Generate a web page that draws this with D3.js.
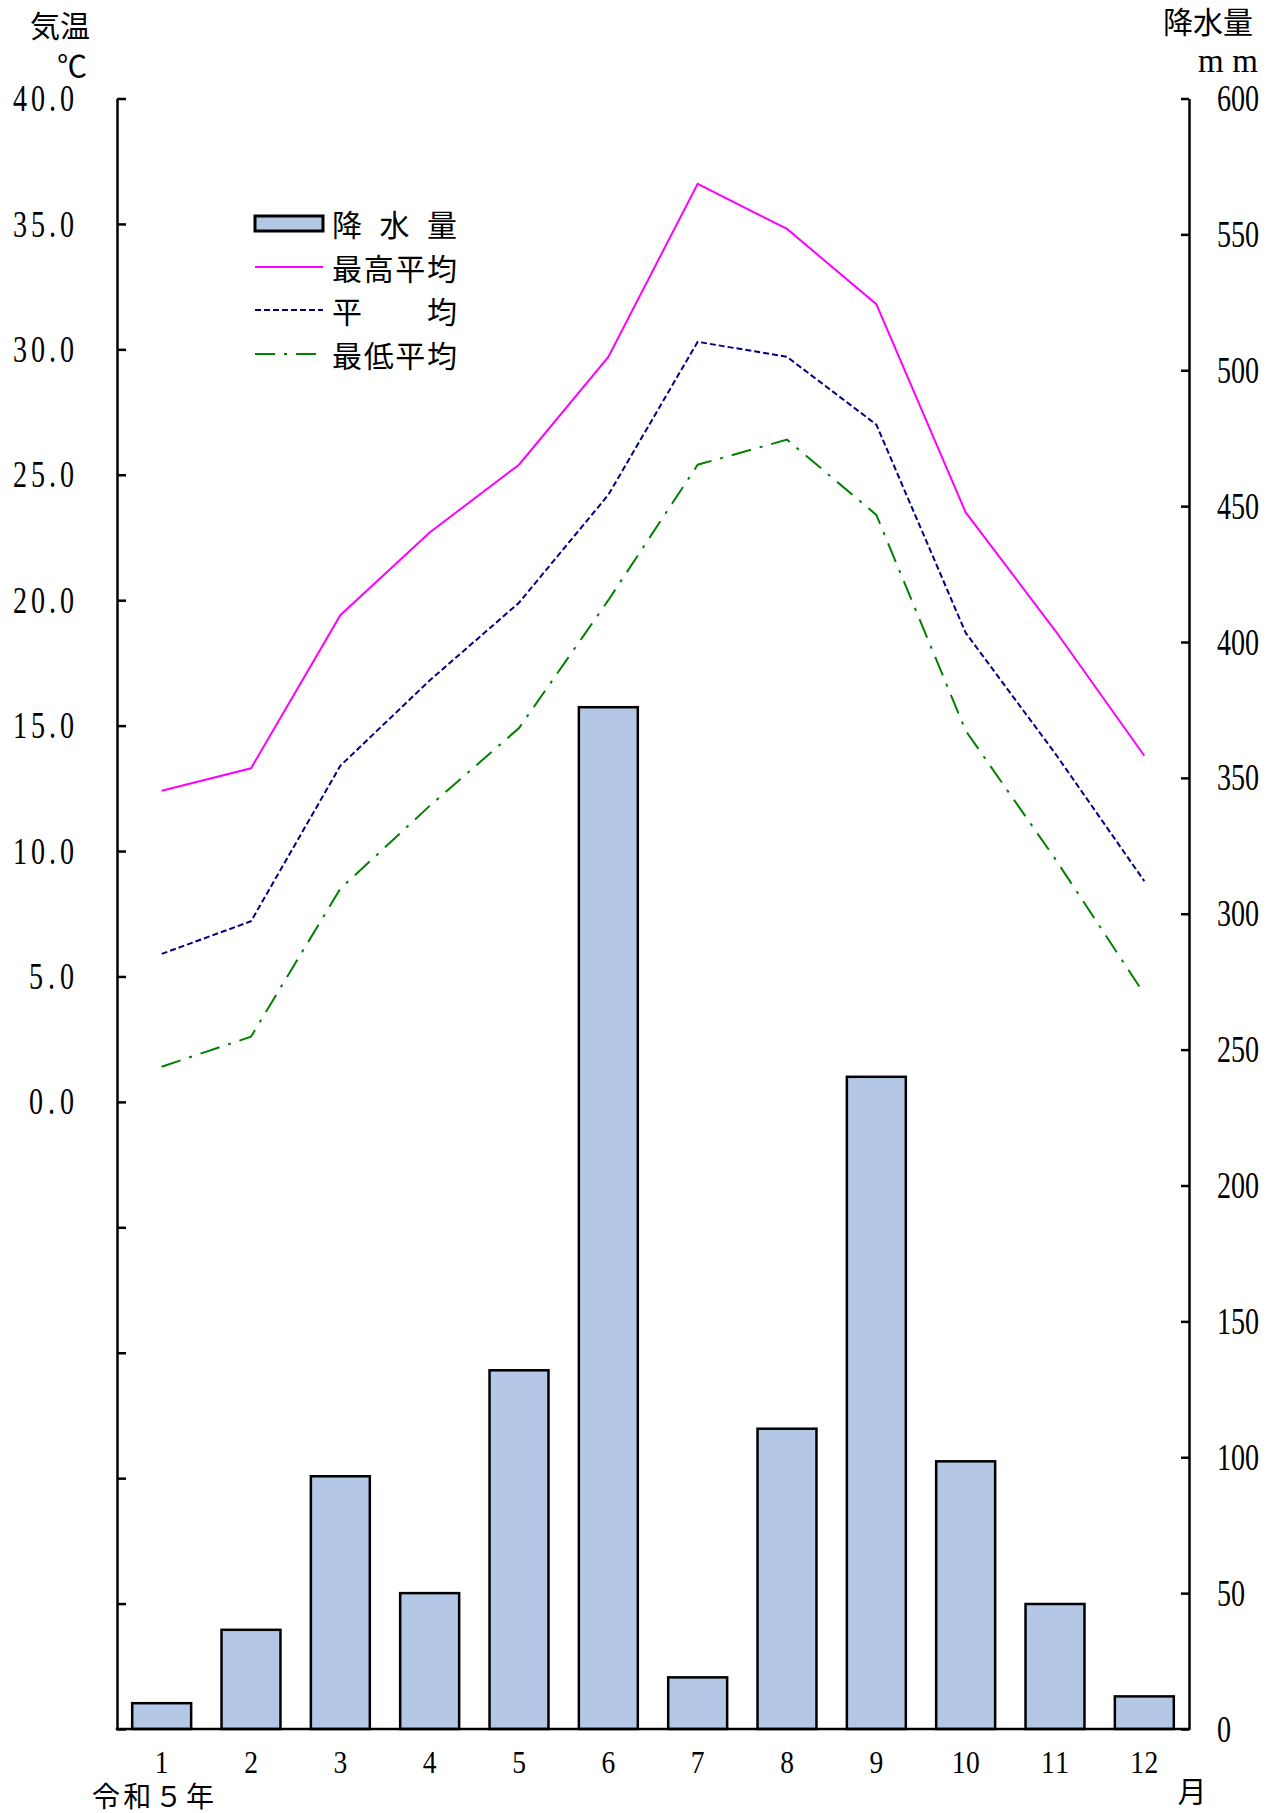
<!DOCTYPE html>
<html><head><meta charset="utf-8">
<script src="https://cdn.jsdelivr.net/npm/d3@7"></script>
<style>body{margin:0;background:#fff}</style>
</head><body><svg id="c" width="1278" height="1813"></svg>
<script>
const months = ["1","2","3","4","5","6","7","8","9","10","11","12"];
const rainfall = [9.5, 36.5, 93, 50, 132, 376, 19, 110.5, 240, 98.5, 46, 12];
const tempMax = [12.4, 13.3, 19.4, 22.7, 25.4, 29.7, 36.6, 34.8, 31.8, 23.5, 18.8, 13.8];
const tempAvg = [5.9, 7.2, 13.4, 16.8, 19.9, 24.2, 30.3, 29.7, 27.0, 18.7, 13.9, 8.8];
const tempMin = [1.4, 2.6, 8.5, 11.8, 14.9, 20.0, 25.4, 26.4, 23.4, 14.8, 9.7, 4.3];
const leftTickValues = [-25,-20,-15,-10,-5,0,5,10,15,20,25,30,35,40];
const leftLabelValues = [0,5,10,15,20,25,30,35,40];
const rightTickValues = [0,50,100,150,200,250,300,350,400,450,500,550,600];
const legendLabels = ["降水量","最高平均","平均","最低平均"];

const svg = d3.select("#c");
const L = 117, R = 1189, T = 98.5, B = 1729;
const x = d3.scaleBand().domain(months).range([L, R]).paddingInner(0.34).paddingOuter(0.17);
const yL = d3.scaleLinear().domain([-25, 40]).range([B, T]);
const yR = d3.scaleLinear().domain([0, 600]).range([B, T]);

const numFont = "'Liberation Serif', serif";
const cjkFont = "'Noto Sans CJK JP', sans-serif";
function numText(g, px, py, str, anchor, F, s, len) {
  const t = g.append("text")
    .attr("transform", `translate(${px},${py}) scale(${s},1)`)
    .attr("text-anchor", anchor)
    .attr("font-family", numFont)
    .attr("font-size", F)
    .attr("dy", "0.34em")
    .attr("fill", "#000")
    .text(str);
  if (len) t.attr("textLength", len / s).attr("lengthAdjust", "spacing");
  return t;
}

// bars
svg.append("g").selectAll("rect").data(months).join("rect")
  .attr("x", d => x(d))
  .attr("width", x.bandwidth())
  .attr("y", (d, i) => yR(rainfall[i]))
  .attr("height", (d, i) => B - yR(rainfall[i]))
  .attr("fill", "#B4C7E7")
  .attr("stroke", "#000")
  .attr("stroke-width", 2.5);

// lines
const cx = d => x(d) + x.bandwidth() / 2;
function drawLine(vals, color, dash) {
  const line = d3.line().x((d, i) => cx(months[i])).y(d => yL(d));
  svg.append("path").datum(vals).attr("d", line)
    .attr("fill", "none").attr("stroke", color).attr("stroke-width", 2)
    .attr("stroke-dasharray", dash || null);
}
drawLine(tempMax, "#FF00FF");
drawLine(tempAvg, "#000080", "6,3");
drawLine(tempMin, "#008000", "20,9,3,9");

// axes
const axL = svg.append("g").attr("transform", `translate(${L},0)`)
  .call(d3.axisLeft(yL).tickValues(leftTickValues).tickSizeInner(-9).tickSizeOuter(0).tickFormat(""));
const axR = svg.append("g").attr("transform", `translate(${R},0)`)
  .call(d3.axisRight(yR).tickValues(rightTickValues).tickSizeInner(-8).tickSizeOuter(0).tickFormat(""));
const axB = svg.append("g").attr("transform", `translate(0,${B})`)
  .call(d3.axisBottom(x).tickSize(0).tickSizeOuter(0).tickFormat(""));
[axL, axR, axB].forEach(a => {
  a.selectAll("path,line").attr("stroke", "#000").attr("stroke-width", 2.5);
});
axB.select("path").attr("d", `M${L - 1.25},0H${R + 1.25}`);

// labels
const lab = svg.append("g");
leftLabelValues.forEach(v => {
  const s = v.toFixed(1);
  numText(lab, 74, yL(v), s, "end", 37, 0.76, s.length === 4 ? 61 : 45);
});
rightTickValues.forEach(v => {
  const s = String(v);
  numText(lab, 1217, yR(v), s, "start", 37, 0.76, s.length > 1 ? s.length * 14 : null);
});
months.forEach(m => {
  numText(lab, cx(m), 1762, m, "middle", 32, 0.86, m.length > 1 ? 28 : null);
});

// titles
svg.append("text").attr("x", 30).attr("y", 24).attr("dominant-baseline", "central")
  .attr("font-family", cjkFont).attr("font-size", 30).text("気温");
svg.append("text").attr("x", 57).attr("y", 64).attr("dominant-baseline", "central")
  .attr("font-family", cjkFont).attr("font-size", 30).text("℃");
svg.append("text").attr("x", 1163).attr("y", 20).attr("dominant-baseline", "central")
  .attr("font-family", cjkFont).attr("font-size", 30).text("降水量");
svg.append("text").attr("x", 1198).attr("y", 72)
  .attr("font-family", numFont).attr("font-size", 33).attr("textLength", 60).attr("lengthAdjust", "spacing").text("mm");
svg.append("text").attr("x", 92).attr("y", 1795).attr("dominant-baseline", "central")
  .attr("font-family", cjkFont).attr("font-size", 28).attr("textLength", 122).attr("lengthAdjust", "spacing").text("令和５年");
svg.append("text").attr("x", 1192).attr("y", 1790).attr("dominant-baseline", "central").attr("text-anchor", "middle")
  .attr("font-family", cjkFont).attr("font-size", 29).text("月");

// legend
const lg = svg.append("g");
const rows = [223, 267, 310, 354];
lg.append("rect").attr("x", 255).attr("y", 216).attr("width", 68).attr("height", 15)
  .attr("fill", "#B4C7E7").attr("stroke", "#000").attr("stroke-width", 3);
lg.append("line").attr("x1", 255).attr("x2", 323).attr("y1", rows[1]).attr("y2", rows[1])
  .attr("stroke", "#FF00FF").attr("stroke-width", 2);
lg.append("line").attr("x1", 255).attr("x2", 323).attr("y1", rows[2]).attr("y2", rows[2])
  .attr("stroke", "#000080").attr("stroke-width", 2).attr("stroke-dasharray", "6,3");
lg.append("line").attr("x1", 255).attr("x2", 317).attr("y1", rows[3]).attr("y2", rows[3])
  .attr("stroke", "#008000").attr("stroke-width", 2).attr("stroke-dasharray", "20,9,3,9");
const xPos = [
  [332, 379.5, 427],
  [332, 363.7, 395.3, 427],
  [332, 427],
  [332, 363.7, 395.3, 427]
];
legendLabels.forEach((t, i) => {
  lg.append("text").attr("x", xPos[i].join(" ")).attr("y", rows[i]).attr("dominant-baseline", "central")
    .attr("font-family", cjkFont).attr("font-size", 30).text(t);
});
</script>
</body></html>
